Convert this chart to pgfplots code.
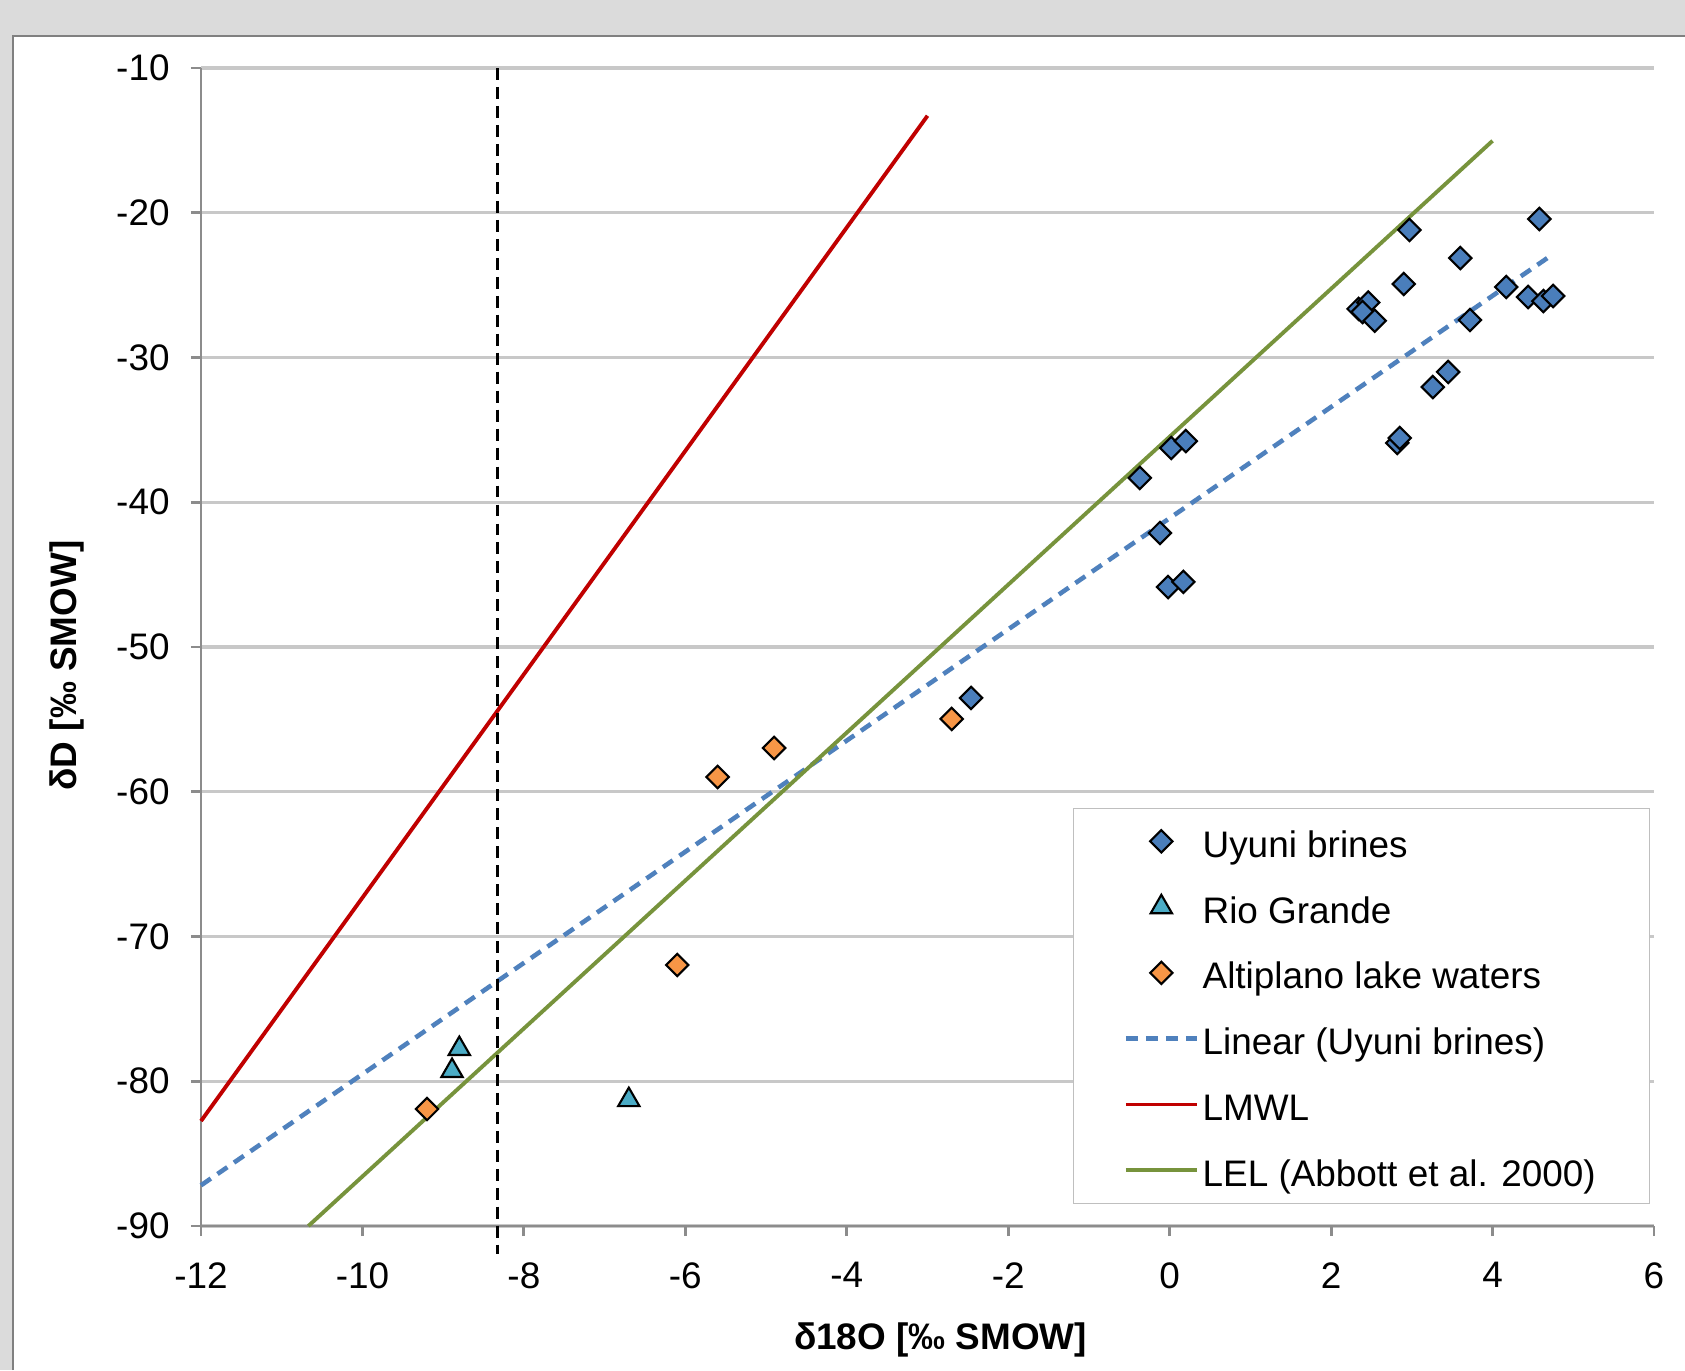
\documentclass[border=0pt]{standalone}
\usepackage{fontspec}
\setmainfont{Liberation Sans}
\usepackage{pgfplots}
\pgfplotsset{compat=1.18}

\definecolor{brine}{HTML}{4A7EBB}
\definecolor{rio}{HTML}{4BACC6}
\definecolor{lake}{HTML}{F79646}
\definecolor{trend}{HTML}{4F81BD}
\definecolor{lmwl}{HTML}{C00000}
\definecolor{lel}{HTML}{77933C}
\definecolor{gridc}{HTML}{C8C8C8}
\definecolor{axisc}{HTML}{8C8C8C}

\begin{document}
\begin{tikzpicture}
% grey page behind a white chart panel
\fill[black!14] (-2.01,-1.44) rectangle (14.84,12.26);
\fill[white] (-1.88,-1.44) rectangle (14.84,11.90);
\draw[black!50, line width=0.8pt] (-1.88,-1.44) -- (-1.88,11.90) -- (14.84,11.90);
\begin{axis}[
  scale only axis, width=14.53cm, height=11.58cm,
  at={(0,0)}, anchor=south west,
  xmin=-12, xmax=6, ymin=-90, ymax=-10,
  xtick={-12,-10,...,6}, ytick={-90,-80,...,-10},
  axis lines*=left, axis line style={-, draw=axisc, line width=0.8pt},
  ymajorgrids, grid style={gridc, line width=0.9pt},
  tick align=outside, major tick length=0.1cm,
  tick style={axisc, line width=0.8pt},
  font=\fontsize{10.5}{12.6}\selectfont,
  /pgf/number format/assume math mode=true,
  xticklabel style={yshift=-0.14cm},
  yticklabel style={xshift=-0.09cm},
  clip=false,
  xlabel={\bfseries δ18O [‰ SMOW]},
  ylabel={\bfseries δD [‰ SMOW]},
  xlabel style={at={(axis description cs:0.509,-0.0984)}, anchor=center},
  ylabel style={at={(axis description cs:-0.0922,0.484)}, anchor=center},
  legend cell align=left,
  legend style={at={(axis description cs:0.9973,0.019)}, anchor=south east,
    draw=black!25, inner xsep=0.5cm, inner ysep=0.15cm, row sep=0.298cm,
    nodes={inner xsep=1pt, inner ysep=0pt, text height=0.34cm, text depth=0.02cm},
    font=\fontsize{10.5}{12.6}\selectfont},
  legend image code/.code={\draw[mark repeat=2,mark phase=2,#1] plot coordinates {(0cm,0cm) (0.355cm,0cm) (0.71cm,0cm)};},
]
% lines first, so the markers sit on top
\addplot[trend, line width=1.3pt, dash pattern=on 3.4pt off 2.3pt, forget plot]
  coordinates {(-12,-87.19) (4.72,-22.97)};
\addplot[lmwl, line width=1.1pt, forget plot]
  coordinates {(-12,-82.75) (-3.0,-13.3)};
\addplot[lel, line width=1.1pt, forget plot]
  coordinates {(-10.67,-90) (4.0,-15.03)};
\addplot[black, line width=0.8pt, dash pattern=on 3.4pt off 2pt, forget plot]
  coordinates {(-8.33,-10) (-8.33,-91.9)};

\addplot[only marks, mark=square*, mark size=2.25pt,
  mark options={rotate=45, fill=brine, draw=black, line width=0.6pt}]
  coordinates {
  (-0.37,-38.32) (0.02,-36.25) (0.20,-35.77) (-0.12,-42.12) (-0.02,-45.86) (0.17,-45.5)
  (-2.46,-53.52) (2.97,-21.19) (4.58,-20.43) (3.60,-23.13) (2.90,-24.92) (4.17,-25.13)
  (4.44,-25.82) (4.63,-26.1) (4.75,-25.75) (3.72,-27.41) (2.34,-26.64) (2.46,-26.2)
  (2.39,-26.86) (2.54,-27.46) (3.45,-31.0) (3.26,-32.04) (2.82,-35.9) (2.85,-35.56)
  };
\addlegendentry{Uyuni brines}
\addplot[only marks, mark=triangle*, mark size=3.5pt,
  mark options={fill=rio, draw=black, line width=0.6pt}]
  coordinates {(-8.80,-77.76) (-8.89,-79.28) (-6.70,-81.29)};
\addlegendentry{Rio Grande}
\addplot[only marks, mark=square*, mark size=2.25pt,
  mark options={rotate=45, fill=lake, draw=black, line width=0.6pt}]
  coordinates {(-5.60,-58.98) (-4.90,-56.98) (-2.70,-54.97) (-6.10,-71.97) (-9.20,-81.92)};
\addlegendentry{Altiplano lake waters}
\addlegendimage{trend, line width=1.3pt, dash pattern=on 3.4pt off 2.3pt}
\addlegendentry{Linear (Uyuni brines)}
\addlegendimage{lmwl, line width=1.1pt}
\addlegendentry{LMWL}
\addlegendimage{lel, line width=1.1pt}
\addlegendentry{LEL (Abbott et al. 2000)}
\end{axis}
\pgfresetboundingbox
\path (-2.01,-1.44) rectangle (14.84,12.26);
\end{tikzpicture}
\end{document}
